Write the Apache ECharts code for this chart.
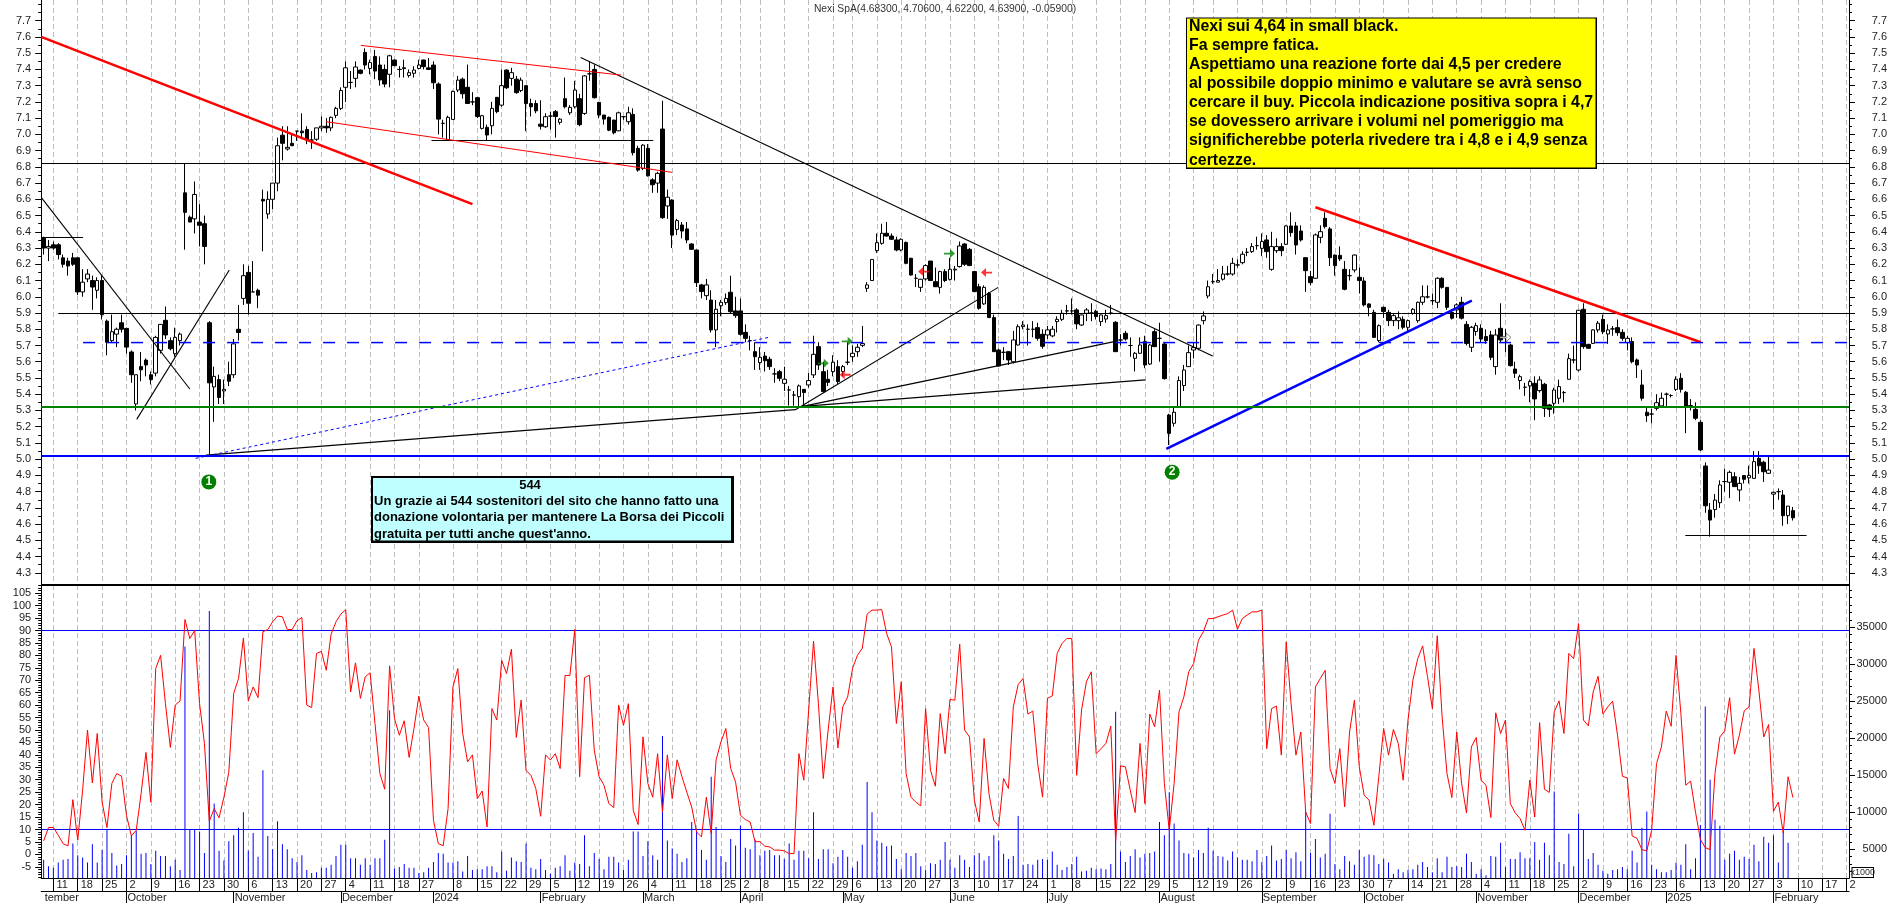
<!DOCTYPE html>
<html><head><meta charset="utf-8">
<script src="https://cdn.jsdelivr.net/npm/echarts@6/dist/echarts.min.js"></script>
<style>html,body{margin:0;padding:0;background:#fff}#c{width:1890px;height:903px}</style>
</head><body><div id="c"></div>
<script>
// [open, close, low, high]
const candles = [
[6.36,6.30,6.26,6.37],[6.30,6.31,6.22,6.35],[6.32,6.30,6.29,6.34],[6.32,6.26,6.23,6.33],[6.24,6.20,6.18,6.26],[6.22,6.19,6.13,6.24],[6.24,6.20,6.19,6.27],[6.24,6.03,6.01,6.24],[6.03,6.09,6.00,6.17],[6.11,6.14,6.09,6.17],
[6.10,6.06,5.92,6.13],[6.04,6.10,5.99,6.12],[6.10,5.89,5.86,6.13],[5.85,5.72,5.64,5.86],[5.73,5.785,5.72,5.89],[5.77,5.80,5.69,5.81],[5.84,5.80,5.78,5.89],[5.805,5.69,5.65,5.81],[5.66,5.52,5.47,5.67],[5.34,5.52,5.30,5.52],
[5.57,5.55,5.48,5.66],[5.61,5.58,5.51,5.62],[5.52,5.49,5.46,5.54],[5.53,5.75,5.51,5.76],[5.67,5.83,5.65,5.83],[5.855,5.765,5.74,5.94],[5.73,5.68,5.67,5.75],[5.65,5.75,5.63,5.81],[5.73,5.77,5.70,5.78],[6.64,6.52,6.29,6.82],
[6.49,6.46,6.46,6.50],[6.48,6.63,6.39,6.71],[6.46,6.44,6.31,6.57],[6.45,6.31,6.20,6.50],[5.84,5.47,5.03,5.85],[5.445,5.51,5.23,5.57],[5.49,5.38,5.34,5.52],[5.42,5.43,5.34,5.49],[5.52,5.48,5.45,5.60],[5.52,5.71,5.50,5.74],
[5.80,5.78,5.73,5.95],[5.99,6.13,5.95,6.20],[6.15,5.96,5.89,6.19],[6.03,6.03,6.03,6.22],[6.04,6.01,5.93,6.05],[6.60,6.59,6.28,6.66],[6.51,6.60,6.48,6.65],[6.60,6.70,6.54,6.70],[6.70,6.93,6.65,6.98],[6.995,6.945,6.84,7.05],
[6.91,6.92,6.90,7.05],[6.945,6.93,6.93,7.00],[7.02,7.02,6.96,7.02],[7.02,7.01,6.97,7.13],[7.03,6.965,6.94,7.05],[6.965,6.965,6.91,7.02],[6.97,7.04,6.96,7.04],[7.04,7.05,7.02,7.11],[7.05,7.04,7.01,7.10],[7.04,7.105,7.02,7.11],
[7.117,7.16,7.10,7.17],[7.16,7.27,7.15,7.29],[7.29,7.41,7.20,7.45],[7.32,7.32,7.28,7.39],[7.345,7.415,7.29,7.45],[7.396,7.376,7.37,7.40],[7.505,7.427,7.40,7.53],[7.406,7.443,7.37,7.46],[7.48,7.39,7.34,7.52],[7.427,7.335,7.30,7.48],
[7.40,7.31,7.29,7.43],[7.37,7.484,7.29,7.49],[7.458,7.423,7.42,7.46],[7.40,7.40,7.35,7.42],[7.41,7.405,7.35,7.46],[7.363,7.38,7.35,7.40],[7.376,7.396,7.35,7.42],[7.406,7.427,7.40,7.46],[7.458,7.417,7.40,7.46],[7.41,7.40,7.40,7.47],
[7.427,7.318,7.28,7.45],[7.31,7.094,7.00,7.32],[7.068,7.068,6.98,7.09],[6.965,7.105,6.96,7.115],[7.092,7.265,7.09,7.27],[7.273,7.334,7.26,7.36],[7.34,7.25,7.22,7.35],[7.29,7.19,7.19,7.43],[7.20,7.20,7.18,7.26],[7.226,7.11,7.10,7.23],
[7.037,7.115,7.03,7.12],[7.043,6.996,6.96,7.06],[7.053,7.16,7.00,7.20],[7.228,7.14,7.13,7.23],[7.18,7.30,7.17,7.40],[7.396,7.287,7.28,7.40],[7.345,7.38,7.30,7.41],[7.34,7.257,7.25,7.36],[7.27,7.334,7.26,7.35],[7.30,7.19,7.02,7.30],
[7.19,7.17,7.11,7.22],[7.19,7.145,7.13,7.21],[7.063,7.05,7.03,7.21],[7.047,7.109,7.04,7.13],[7.113,7.113,7.03,7.14],[7.14,7.11,6.98,7.15],[7.074,7.094,7.06,7.10],[7.22,7.17,7.16,7.35],[7.133,7.166,7.12,7.18],[7.17,7.273,7.16,7.33],
[7.22,7.06,7.05,7.25],[7.129,7.36,7.12,7.365],[7.373,7.373,7.33,7.45],[7.40,7.226,7.22,7.43],[7.197,7.119,7.10,7.20],[7.119,7.094,7.06,7.12],[7.105,7.026,7.02,7.11],[7.088,7.01,7.00,7.09],[7.022,7.133,7.02,7.14],[7.109,7.109,7.09,7.11],
[7.078,7.133,7.06,7.17],[7.123,6.887,6.87,7.16],[6.914,6.78,6.77,6.93],[6.79,6.934,6.78,6.94],[6.914,6.745,6.74,6.94],[6.72,6.69,6.64,6.73],[6.70,6.76,6.64,6.77],[7.033,6.487,6.48,7.207],[6.559,6.613,6.48,6.66],[6.596,6.38,6.30,6.60],
[6.415,6.469,6.38,6.48],[6.442,6.405,6.36,6.46],[6.418,6.35,6.33,6.46],[6.325,6.292,6.29,6.33],[6.288,6.087,6.06,6.29],[6.073,6.032,5.99,6.08],[6.007,6.073,5.98,6.11],[5.98,5.796,5.78,6.04],[5.796,5.923,5.69,5.98],[5.945,5.966,5.88,5.98],
[5.964,5.99,5.95,6.02],[6.028,5.908,5.90,6.13],[5.913,5.884,5.87,6.00],[5.913,5.769,5.76,5.99],[5.781,5.744,5.72,5.83],[5.73,5.73,5.67,5.76],[5.662,5.631,5.55,5.72],[5.595,5.627,5.55,5.69],[5.635,5.606,5.54,5.66],[5.615,5.57,5.55,5.63],
[5.525,5.525,5.47,5.56],[5.539,5.498,5.48,5.55],[5.467,5.492,5.42,5.57],[5.426,5.426,5.33,5.45],[5.395,5.395,5.33,5.42],[5.385,5.451,5.32,5.46],[5.43,5.41,5.32,5.43],[5.457,5.484,5.44,5.53],[5.519,5.646,5.50,5.76],[5.693,5.58,5.55,5.72],
[5.539,5.416,5.41,5.60],[5.492,5.473,5.45,5.55],[5.539,5.597,5.51,5.64],[5.57,5.478,5.46,5.61],[5.54,5.57,5.51,5.58],[5.597,5.597,5.58,5.72],[5.631,5.652,5.60,5.70],[5.662,5.689,5.63,5.71],[5.701,5.712,5.69,5.82],[6.052,6.073,6.03,6.09],
[6.10,6.23,6.10,6.23],[6.284,6.333,6.27,6.39],[6.329,6.391,6.32,6.45],[6.391,6.374,6.37,6.46],[6.374,6.354,6.35,6.39],[6.35,6.288,6.28,6.37],[6.288,6.354,6.28,6.36],[6.335,6.206,6.20,6.34],[6.237,6.134,6.13,6.24],[6.114,6.114,6.06,6.14],
[6.058,6.108,6.03,6.11],[6.11,6.192,6.10,6.20],[6.22,6.10,6.10,6.22],[6.093,6.062,6.06,6.18],[6.058,6.155,6.02,6.16],[6.155,6.10,6.09,6.17],[6.107,6.169,6.10,6.24],[6.165,6.17,6.10,6.19],[6.186,6.313,6.18,6.34],[6.325,6.20,6.19,6.33],
[6.292,6.192,6.19,6.30],[6.155,6.032,6.03,6.16],[6.062,5.929,5.92,6.08],[5.956,6.058,5.95,6.07],[6.021,5.872,5.87,6.03],[5.872,5.662,5.66,5.89],[5.672,5.574,5.57,5.68],[5.658,5.658,5.61,5.69],[5.662,5.611,5.58,5.66],[5.60,5.734,5.59,5.79],
[5.703,5.816,5.70,5.83],[5.816,5.826,5.80,5.85],[5.80,5.80,5.70,5.83],[5.80,5.80,5.75,5.85],[5.81,5.744,5.73,5.84],[5.769,5.695,5.68,5.80],[5.765,5.796,5.74,5.82],[5.759,5.80,5.75,5.82],[5.847,5.861,5.78,5.88],[5.861,5.898,5.85,5.92],
[5.913,5.913,5.89,5.95],[5.913,5.913,5.89,5.99],[5.919,5.833,5.80,5.93],[5.826,5.888,5.82,5.89],[5.898,5.919,5.85,5.93],[5.90,5.90,5.85,5.96],[5.911,5.878,5.86,5.92],[5.847,5.888,5.82,5.89],[5.863,5.884,5.84,5.92],[5.90,5.90,5.89,5.95],
[5.843,5.662,5.66,5.85],[5.734,5.734,5.70,5.77],[5.775,5.74,5.73,5.79],[5.70,5.70,5.63,5.75],[5.621,5.652,5.54,5.66],[5.652,5.703,5.65,5.75],[5.724,5.58,5.56,5.76],[5.586,5.703,5.58,5.71],[5.785,5.693,5.69,5.80],[5.744,5.744,5.60,5.84],
[5.709,5.496,5.49,5.72],[5.272,5.159,5.087,5.28],[5.221,5.289,5.20,5.32],[5.323,5.484,5.32,5.51],[5.453,5.549,5.42,5.58],[5.57,5.656,5.57,5.70],[5.672,5.687,5.62,5.72],[5.683,5.826,5.67,5.83],[5.853,5.882,5.83,5.91],[6.005,6.062,5.99,6.10],
[6.093,6.093,6.08,6.14],[6.09,6.10,6.09,6.17],[6.108,6.14,6.10,6.19],[6.14,6.14,6.13,6.19],[6.14,6.206,6.13,6.24],[6.196,6.196,6.18,6.23],[6.21,6.262,6.20,6.28],[6.274,6.274,6.25,6.30],[6.278,6.309,6.27,6.33],[6.315,6.315,6.29,6.37],
[6.298,6.34,6.25,6.39],[6.35,6.278,6.24,6.38],[6.169,6.309,6.16,6.40],[6.284,6.309,6.27,6.36],[6.309,6.284,6.25,6.33],[6.323,6.436,6.32,6.44],[6.436,6.395,6.37,6.52],[6.436,6.319,6.26,6.46],[6.405,6.35,6.34,6.44],[6.241,6.161,6.03,6.24],
[6.124,6.087,6.07,6.16],[6.114,6.381,6.11,6.39],[6.366,6.401,6.33,6.44],[6.483,6.432,6.42,6.52],[6.418,6.241,6.19,6.43],[6.257,6.192,6.13,6.26],[6.255,6.233,6.22,6.31],[6.169,6.046,6.04,6.22],[6.13,6.13,6.10,6.17],[6.165,6.257,6.15,6.26],
[6.12,6.10,6.02,6.18],[6.097,5.95,5.94,6.12],[5.956,5.935,5.88,5.96],[5.904,5.75,5.75,5.92],[5.73,5.822,5.72,5.83],[5.935,5.909,5.87,5.94],[5.904,5.853,5.82,5.92],[5.853,5.884,5.82,5.90],[5.853,5.871,5.80,5.91],[5.861,5.812,5.80,5.88],
[5.812,5.853,5.79,5.86],[5.898,5.923,5.89,5.93],[5.853,5.966,5.84,5.97],[5.966,6.00,5.95,6.07],[5.999,5.999,5.99,6.07],[5.976,5.976,5.95,6.02],[5.966,6.114,5.93,6.12],[6.114,6.058,6.05,6.12],[6.058,5.935,5.92,6.06],[5.904,5.868,5.86,5.92],
[5.919,5.95,5.87,5.96],[5.966,5.868,5.86,6.00],[5.83,5.713,5.70,5.85],[5.689,5.812,5.66,5.82],[5.786,5.822,5.76,5.84],[5.806,5.74,5.72,5.83],[5.755,5.73,5.71,5.80],[5.765,5.627,5.61,5.79],[5.57,5.765,5.52,5.80],[5.806,5.734,5.72,5.96],
[5.75,5.75,5.66,5.80],[5.703,5.576,5.57,5.71],[5.555,5.529,5.50,5.60],[5.484,5.508,5.43,5.52],[5.443,5.443,5.39,5.47],[5.451,5.478,5.35,5.49],[5.467,5.371,5.24,5.51],[5.422,5.488,5.41,5.51],[5.461,5.313,5.26,5.47],[5.334,5.307,5.26,5.34],
[5.344,5.426,5.28,5.44],[5.375,5.447,5.34,5.49],[5.41,5.41,5.35,5.42],[5.492,5.619,5.49,5.65],[5.611,5.611,5.59,5.70],[5.549,5.917,5.54,5.92],[5.923,5.693,5.68,5.96],[5.707,5.683,5.68,5.71],[5.713,5.796,5.71,5.80],[5.796,5.837,5.78,5.85],
[5.861,5.785,5.77,5.89],[5.771,5.796,5.71,5.83],[5.802,5.802,5.76,5.82],[5.81,5.779,5.76,5.86],[5.781,5.744,5.73,5.80],[5.718,5.744,5.67,5.76],[5.724,5.60,5.59,5.75],[5.611,5.58,5.50,5.62],[5.457,5.375,5.36,5.55],[5.289,5.268,5.23,5.32],
[5.278,5.278,5.22,5.31],[5.313,5.348,5.30,5.40],[5.328,5.375,5.32,5.41],[5.40,5.40,5.32,5.41],[5.392,5.392,5.38,5.40],[5.43,5.492,5.42,5.51],[5.498,5.43,5.41,5.53],[5.412,5.323,5.16,5.42],[5.33,5.33,5.30,5.37],[5.307,5.252,5.24,5.35],
[5.227,5.057,5.05,5.24],[4.958,4.713,4.67,4.98],[4.687,4.625,4.523,4.73],[4.69,4.748,4.64,4.785],[4.732,4.841,4.70,4.87],[4.862,4.862,4.80,4.94],[4.858,4.919,4.76,4.93],[4.892,4.831,4.83,4.92],[4.81,4.851,4.74,4.89],[4.899,4.876,4.85,4.90],
[4.885,4.90,4.85,4.96],[4.882,4.985,4.88,5.05],[5.005,4.96,4.91,5.05],[4.981,4.923,4.86,4.99],[4.913,4.933,4.91,5.02],[4.785,4.796,4.69,4.80],[4.80,4.80,4.75,4.82],[4.779,4.652,4.59,4.81],[4.652,4.711,4.60,4.711],[4.683,4.639,4.622,4.706]
];
const oscillator = [
5.4,10.8,10.8,7.7,4.3,3.4,22,5.7,25.8,50,28.7,48.6,21,10.8,28.5,32.5,31.4,15.7,7.4,9.7,
24.4,41,21,74.7,80,60.6,43,60,61.7,94.4,86.8,90,60.6,44.6,13.3,18.4,14.7,23,33,64.7,
70.7,87,61.7,67.3,63,89.5,90.4,93.5,95.8,95.5,90.4,90.4,93.9,95.2,60,59,80.8,81.6,74,88.5,
93.5,96.6,98.4,65.3,77,62.7,71.4,73,52.6,32.5,26.2,75.8,54.6,47.9,53.7,39,50.6,63.6,54,51,
13.7,4.3,3.5,18.4,67.3,74.7,48.6,37.2,40,22.4,25.5,11,58.6,54,78,72.7,82.5,47,62,33.8,
31.8,26.5,15.3,40,37.9,40.5,34.5,71.9,71.9,90.4,31.2,71,72,41.9,31.2,27.8,20.4,18.8,60,51.9,
60.6,17.7,12,47.2,28.5,23,40.5,17,40,22.4,38,31.2,25,19,9,7,23,8.4,38,45.2,
50.6,34.5,29.1,15.7,14,13,5.1,5.1,3.3,3,1.7,1.7,1.4,0.3,0.3,40.5,29.8,58,85.7,60.6,
30.5,50,67.3,42.8,59.3,63.3,74.7,80,82.8,96.6,98.2,98.2,98.4,88.8,83.4,52.6,69.4,32.5,23,21,
19.5,58.6,33.8,27.4,56.6,40.5,62.3,62,84.5,50,47.2,21.8,13,46.6,24.4,13.7,11.3,30.5,26.5,59.3,
68.3,70.7,56.4,57.6,36.5,23,62.7,63.7,80.8,84.8,86.8,86.8,31.8,58,69.4,73.4,40.5,42.5,44.6,51.5,
5.4,35.6,35.2,25.8,16.8,44.6,20.4,56.4,51.3,66,28.5,9.7,28.5,57.3,63.3,73.4,76.7,86.1,89.5,94.8,
94.8,95.5,96.2,96.8,98.2,90.5,94.8,96.2,97.5,97.5,98.2,42.5,58.6,59.6,39.9,85.4,60.6,39.9,49.2,17,
12.4,67.3,70.7,74,34.5,28.5,42.5,19.1,49.2,62,35.2,23.8,21.8,11.7,31.2,50.6,39.9,50.2,44.6,29.8,
54,70,78.7,83.8,71.4,58.6,87.9,55.3,32.5,22.8,49.2,28.5,16.7,43.2,47,29.8,27.8,14.8,56.9,48.6,
54,20.4,16.7,14.4,9.7,29.8,15,53,26.2,24.9,57.3,61.7,48.6,80.8,78.7,92.8,54,51.7,65.3,71.6,
56.4,59.3,61.6,47.9,31.4,30.7,7.4,6.4,1.9,1.4,9.7,36.5,43.2,57.6,51.5,80,56.6,27.8,29.5,17,
6,2.7,1.9,32.5,47.2,49.7,63,40.3,47.9,57.7,59.3,82.8,66,47.2,52.2,17.3,21,8.6,31.2,22.8
];
const volumeK = [
3.6,2.7,2.5,3.2,3.6,3.7,5.8,4.2,3.9,3.2,5.7,3.2,4.9,7.7,4.5,2.8,3,4.2,6.9,7.5,
4.4,4.5,3,4.8,4.1,4.1,2.7,3.6,2.2,32.4,7.7,7.7,7.4,4.5,37.2,11.2,4.8,3.5,6.1,6.9,
7.9,10,4.8,7.2,4,15.7,6.8,5,8.8,5.7,5,3.8,3.3,4.2,2.2,1.8,1.9,2.5,2.5,2.9,
4.1,5.6,5.6,3.8,3.8,2.9,3.8,2.9,3.8,3.8,6.3,23.8,2.4,2.6,3,2.5,2.5,1.8,1.9,2.5,
3.3,4.5,4.4,3.2,3.2,3.4,2,4.1,2.2,2.3,2.3,2.7,2.7,1.9,4.7,2.1,3.9,3.4,3.3,5.8,
2.5,2.3,3.7,2.2,1.7,2.5,2.7,4.2,2.1,3.2,3,6.9,2.7,4.5,3.7,2.3,4,4,3.2,2.2,
3.6,7.4,7.4,4.1,6.1,4.2,3.6,20.3,6.2,5.1,4.4,3.3,3.8,8.7,7.5,4.9,3.6,14.8,8,4.1,
3.3,6.4,5.5,8.2,5.2,5,6.3,4.2,4.8,4.9,4.2,4.2,3.7,5.8,3.6,4.8,4.8,3.8,10,3.7,
5,5,3.1,4,4.9,4,2.5,3.4,5.6,14.1,10,6.2,5.9,5.4,5.5,3.7,2.3,4.5,4.1,4.5,
2.7,2.2,3.1,3,3.6,6,3.6,2.5,4.2,3.6,2.6,4.2,4.5,3.5,4.1,6.9,6.2,4.4,3.7,4.1,
9.5,2.9,3,2.9,3.6,3.7,3.6,4.7,2.9,2.2,2.6,3,4,2,2.1,2.5,2.3,2.4,2.3,3,
23.6,4.7,3.3,4.1,5,3.9,4.4,4.5,4.7,8.7,6.9,12.7,8.5,6.2,4.5,4.4,3.9,4.9,4.5,7.9,
4.8,4.1,4,3.5,4.7,3.9,3.6,3.6,3.4,4.9,3.3,4.1,5.5,3.5,3.7,4.9,3.8,4.6,3.4,10.1,
4.5,6.4,3.9,4.4,9.8,3,2.3,4.1,3.4,2.9,4.9,4,4.3,4.2,3,3.7,3.2,1.7,2.3,1.9,
2.2,2.3,2.9,3.3,2.6,1.9,3.8,1.9,4,2.6,2.7,2.6,4.4,3.3,1.7,2.3,1.5,4.1,4,5.9,
2.6,3.7,3.7,4.6,3.8,3.8,6,3.6,5.9,4.2,12.8,3.3,3,7.1,2.7,9.8,7.7,3.7,4.5,2.9,
2.1,1.7,2.2,2.3,2.6,2.3,4.8,3.2,7.9,10.1,2.9,2.3,1.9,1.9,2.2,3.2,2.9,5.7,2.3,3.8,
8.3,24.3,14.4,9,8.2,3.6,4.4,4.8,3.6,4,3.7,5.6,3.4,6.7,5.9,6.9,3.2,7.3,5.9,null
];
const slotCount = 371;
const categories = Array.from({length: slotCount}, (_, i) => String(i));
const weekIndex = [2,7,12,17,22,27,32,37,42,47,52,57,62,67,72,77,84,89,94,99,104,109,114,119,124,129,134,139,143,147,152,157,162,166,171,176,181,186,191,196,201,206,211,216,221,226,231,236,240,245,250,255,260,265,270,275,280,285,290,295,300,305,310,315,320,325,330,335,340,345,350,355,360,365,370];
const weekText = ['11','18','25','2','9','16','23','30','6','13','20','27','4','11','18','27','8','15','22','29','5','12','19','26','4','11','18','25','2','8','15','22','29','6','13','20','27','3','10','17','24','1','8','15','22','29','5','12','19','26','2','9','16','23','30','7','14','21','28','4','11','18','25','2','9','16','23','6','13','20','27','3','10','17','2'];
const monthIndex = [0,17,39,61,80,102,123,143,164,186,206,229,250,271,294,315,333,355];
const monthText = ['tember','October','November','December','2024','February','March','April','May','June','July','August','September','October','November','December','2025','February'];
const priceTicks = [4.3,4.4,4.5,4.6,4.7,4.8,4.9,5.0,5.1,5.2,5.3,5.4,5.5,5.6,5.7,5.8,5.9,6.0,6.1,6.2,6.3,6.4,6.5,6.6,6.7,6.8,6.9,7.0,7.1,7.2,7.3,7.4,7.5,7.6,7.7];
const oscTicks = [-5,0,5,10,15,20,25,30,35,40,45,50,55,60,65,70,75,80,85,90,95,100,105];
const volTicks = [5,10,15,20,25,30,35];
const title = 'Nexi SpA(4.68300, 4.70600, 4.62200, 4.63900, -0.05900)';
const yellowNote = ['Nexi sui 4,64 in small black.','Fa sempre fatica.','Aspettiamo una reazione forte dai 4,5 per credere','al possibile doppio minimo e valutare se avrà senso','cercare il buy. Piccola indicazione positiva sopra i 4,7','se dovessero arrivare i volumi nel pomeriggio ma','significherebbe poterla rivedere tra i 4,8 e i 4,9 senza','certezze.'];
const cyanTitle = '544';
const cyanNote = ['Un grazie ai 544 sostenitori del sito che hanno fatto una','donazione volontaria per mantenere La Borsa dei Piccoli','gratuita per tutti anche quest\'anno.'];
// drawn studies, as [barIndex, price] pairs
const blackLevels = [[[-0.5,6.8207],[370.5,6.8207]],[[3,5.897],[370.5,5.897]]];
const blackShort = [[[-0.5,6.3651],[8.1,6.3651]],[[79.6,6.9624],[125.1,6.9624]],[[336.9,4.5301],[361.8,4.5301]]];
const blackThin = [[[110.2,7.474],[239.9,5.636]],[[-0.5,6.612],[30,5.432]],[[19.1,5.245],[38.1,6.165]],[[154.2,5.303],[195.9,6.058]]];
const blackFan = [[[33.3,5.025],[154.2,5.305]],[[155.8,5.325],[219.7,5.724]],[[155.8,5.325],[226.1,5.488]]];
const redThin = [[[65.1,7.548],[118.5,7.365]],[[58,7.078],[129,6.766]]];
const redThick = [[[-0.5,7.6],[88,6.571]],[[261,6.551],[340.1,5.72]]];
const blueThick = [[[230.4,5.063],[293.1,5.976]]];
const blueDotted = [[[31.2,5.005],[148.8,5.75]]];
const blueDashLevel = [[[8.1,5.718],[370.5,5.718]]];
const greenLevel = [[[-0.5,5.321],[370.5,5.321]]];
const blueLevel = [[[-0.5,5.02],[370.5,5.02]]];
const oscLevels = [[[-0.5,90],[370.5,90]],[[-0.5,10],[370.5,10]]];
const arrowsRightGreen = [[185.9,6.266],[164.9,5.726],[160,5.59]];
const arrowsLeftRed = [[180.6,6.155],[193.5,6.149],[164.5,5.52]];
const arrowsRightWhite = [[300,5.75]];
const badges = [[33.9,4.86,'1'],[231.6,4.92,'2']];

const PRICE = {min:4.2252,max:7.8275}, OSC = {min:-9.5,max:108.29}, VOL = {min:1.122,max:40.72};
const FONT = '"Liberation Sans", Arial, sans-serif';
const LX = -0.5, RX = 370.5;
const weekMap = {}; weekIndex.forEach((k,i)=>weekMap[k]=weekText[i]);
const monthMap = {}; monthIndex.forEach((k,i)=>monthMap[k]=monthText[i]);
const stepRange = (a,b,s)=>{const o=[];for(let v=Math.ceil(a/s-1e-9);v*s<=b+1e-9;v++)o.push(+(v*s).toFixed(3));return o;};

function yAx(grid,pos,range,major,minor,show,fmt){
  const base = {type:'value',gridIndex:grid,position:pos,min:range.min,max:range.max,scale:true,splitLine:{show:false},
    axisLine:{show:true,onZero:false,lineStyle:{color:'#000',width:1}}};
  return show ? Object.assign(base,{
    axisTick:{show:true,length:6,customValues:major,lineStyle:{color:'#000'}},
    axisLabel:{show:true,customValues:major,formatter:fmt,color:'#222',fontFamily:FONT,fontSize:11,
      margin:pos==='left'?10:38,align:'right',hideOverlap:false,showMinLabel:true,showMaxLabel:true}
  }) : Object.assign(base,{
    axisTick:{show:true,length:3,customValues:minor,lineStyle:{color:'#000'}},
    axisLabel:{show:false}
  });
}
const fmtPrice = v=>v.toFixed(1), fmtOsc = v=>String(Math.round(v)), fmtVol = v=>String(Math.round(v*1000));
const yAxis = [
  yAx(0,'left',PRICE,priceTicks,null,true,fmtPrice),
  yAx(0,'right',PRICE,priceTicks,null,true,fmtPrice),
  yAx(0,'left',PRICE,null,stepRange(4.3,7.8,0.05),false),
  yAx(0,'right',PRICE,null,stepRange(4.3,7.8,0.05),false),
  yAx(1,'left',OSC,oscTicks,null,true,fmtOsc),
  yAx(1,'right',VOL,volTicks,null,true,fmtVol),
  yAx(1,'left',OSC,null,stepRange(-9,108,1),false),
  yAx(1,'right',VOL,null,stepRange(2,40,1),false)
];
// hidden value axes: they carry the drawn studies and the dashed weekly grid
const hiddenX = g=>({type:'value',gridIndex:g,min:LX,max:RX,position:'top',
  axisLine:{show:false},axisLabel:{show:false},
  axisTick:{show:false,customValues:weekIndex},
  splitLine:{show:true,lineStyle:{color:'#bdbdbd',width:1,type:[5,3]}}});
const xAxis = [
  {type:'category',gridIndex:0,data:categories,axisLine:{show:false},axisTick:{show:false},axisLabel:{show:false},splitLine:{show:false}},
  {type:'category',gridIndex:1,data:categories,position:'bottom',
   axisLine:{show:true,onZero:false,lineStyle:{color:'#000',width:1}},
   axisTick:{show:true,alignWithLabel:true,length:13,interval:i=>i in weekMap,lineStyle:{color:'#000'}},
   axisLabel:{show:true,interval:i=>i in weekMap,formatter:(v,i)=>weekMap[+v]||'',align:'left',padding:[0,0,0,3],margin:1,color:'#222',fontFamily:FONT,fontSize:11,hideOverlap:false},
   splitLine:{show:false}},
  {type:'category',gridIndex:1,data:categories,position:'bottom',offset:13,
   axisLine:{show:true,onZero:false,lineStyle:{color:'#000',width:1}},
   axisTick:{show:true,alignWithLabel:true,length:12,interval:i=>i in monthMap && i>0,lineStyle:{color:'#000'}},
   axisLabel:{show:true,interval:i=>i in monthMap,formatter:(v,i)=>monthMap[+v]||'',align:'left',padding:[0,0,0,1],margin:1,color:'#222',fontFamily:FONT,fontSize:11,hideOverlap:false},
   splitLine:{show:false}},
  hiddenX(0),hiddenX(1)
];
const series = [];
series.push({type:'candlestick',xAxisIndex:0,yAxisIndex:0,data:candles,barWidth:4,animation:false,silent:true,z:3,
  itemStyle:{color:'#fff',color0:'#000',borderColor:'#000',borderColor0:'#000',borderColorDoji:'#000',borderWidth:1}});
function addLines(list,xi,yi,color,width,type,z){
  list.forEach(pts=>series.push({type:'line',xAxisIndex:xi,yAxisIndex:yi,data:pts,showSymbol:false,silent:true,animation:false,z:z||4,
    lineStyle:{color:color,width:width,type:type||'solid'}}));
}
addLines(blackLevels,3,0,'#000',1);
addLines(blackShort,3,0,'#000',1);
addLines(blackThin,3,0,'#000',1.1);
addLines(blackFan,3,0,'#000',1.3);
addLines(redThin,3,0,'#f00',1);
addLines(redThick,3,0,'#f00',2.5);
addLines(blueThick,3,0,'#00f',2.5);
addLines(blueDotted,3,0,'#00f',1,[3,3]);
addLines(blueDashLevel,3,0,'#00f',1.5,[12,12]);
addLines(greenLevel,3,0,'#008000',2);
addLines(blueLevel,3,0,'#00f',2);
addLines(oscLevels,4,4,'#00f',1,'solid',4);
const ARROW = 'path://M0,3.2 L6,3.2 L6,0 L11,4 L6,8 L6,4.8 L0,4.8 Z';
const arrowS = (d,color,rot)=>series.push({type:'scatter',xAxisIndex:3,yAxisIndex:0,data:d,symbol:ARROW,symbolSize:[11,9],symbolRotate:rot,silent:true,animation:false,z:6,
  itemStyle:{color:color,borderColor:color==='#fff'?'#000':color,borderWidth:color==='#fff'?0.6:0}});
arrowS(arrowsRightGreen,'#008000',0);
arrowS(arrowsLeftRed,'#f00',180);
arrowS(arrowsRightWhite,'#fff',0);
series.push({type:'scatter',xAxisIndex:3,yAxisIndex:0,data:badges.map(b=>[b[0],b[1],b[2]]),symbol:'circle',symbolSize:15,silent:true,animation:false,z:6,
  itemStyle:{color:'#008000',opacity:1},
  label:{show:true,position:'inside',formatter:p=>p.value[2],color:'#fff',fontFamily:FONT,fontSize:12,fontWeight:'bold'}});
series.push({type:'bar',xAxisIndex:1,yAxisIndex:5,data:volumeK,barWidth:1,silent:true,animation:false,z:3,clip:true,itemStyle:{color:'#00f'}});
series.push({type:'line',xAxisIndex:1,yAxisIndex:4,data:oscillator,showSymbol:false,silent:true,animation:false,z:5,lineStyle:{color:'#f00',width:1}});

const txt = (x,y,t,style)=>({type:'text',x,y,z:20,silent:true,style:Object.assign({text:t,fontFamily:FONT,fill:'#000',textVerticalAlign:'middle'},style)});
const rect = (x,y,w,h,fill)=>({type:'rect',z:19,silent:true,shape:{x,y,width:w,height:h},style:{fill}});
const graphic = [
  txt(945,9,title,{fontSize:10.3,fill:'#333',textAlign:'center'}),
  rect(1186,17.5,411,151.5,'#000'),
  rect(1187,18.5,408.5,149,'#ffff00'),
  rect(371,476,363,67,'#000'),
  rect(373,478,358,62.5,'#bfffff'),
  rect(1851.5,867,22.5,11,'#000'),
  rect(1852.5,868,20.5,9,'#fff'),
  txt(1862.7,872.5,'x1000',{fontSize:9,fill:'#333',textAlign:'center'}),
  txt(530,485,cyanTitle,{fontSize:13,fontWeight:'bold',textAlign:'center'})
];
yellowNote.forEach((l,i)=>graphic.push(txt(1189,26.5+i*19.1,l,{fontSize:15.9,fontWeight:'bold'})));
cyanNote.forEach((l,i)=>graphic.push(txt(374,501.7+i*16.2,l,{fontSize:13,fontWeight:'bold'})));

const chart = echarts.init(document.getElementById('c'),null,{renderer:'canvas'});
chart.setOption({
  animation:false,backgroundColor:'#fff',tooltip:{show:false},legend:{show:false},
  grid:[{left:41.2,right:41,top:0,height:585},{left:41.2,right:41,top:585,height:293}],
  xAxis,yAxis,series,
  graphic:{elements:[
    ...graphic,
    {type:'rect',z:18,silent:true,shape:{x:41.2,y:584,width:1807.8,height:2},style:{fill:'#000'}}
  ]}
});
</script></body></html>
